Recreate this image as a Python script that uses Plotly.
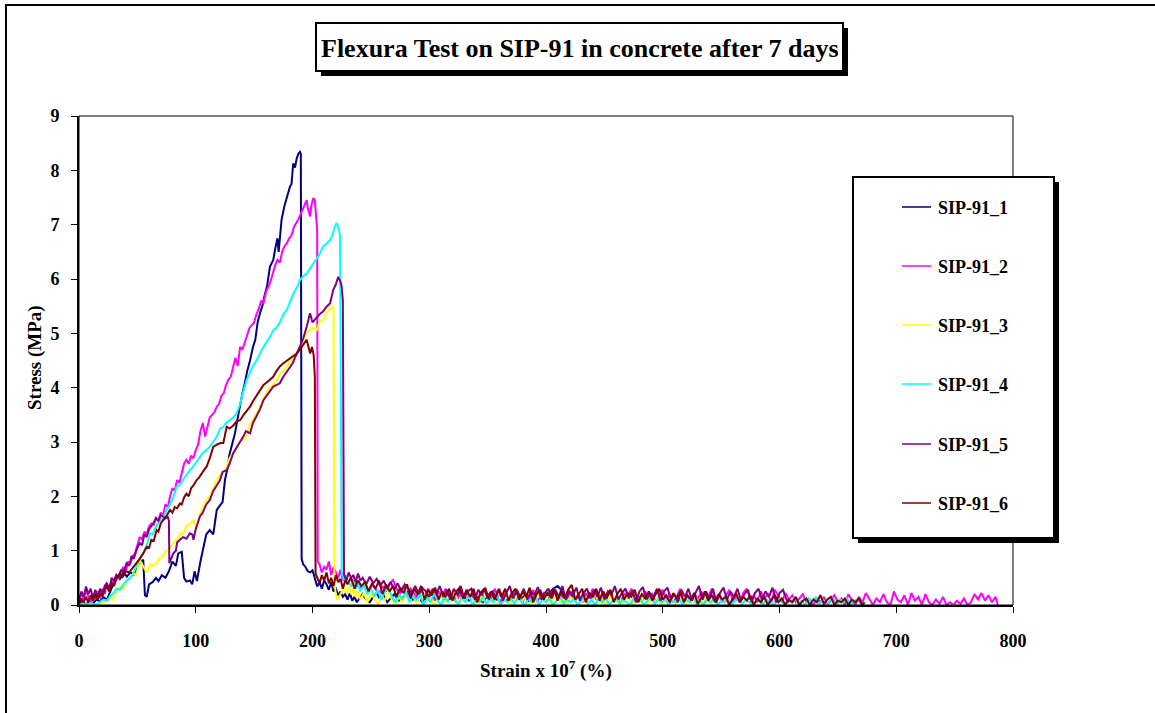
import plotly.graph_objects as go

# ---------------- data ----------------
SERIES_NAMES = ["SIP-91_1", "SIP-91_2", "SIP-91_3", "SIP-91_4", "SIP-91_5", "SIP-91_6"]
SERIES_COLORS = ["#000080", "#FF00FF", "#FFFF00", "#00FFFF", "#800080", "#800000"]

X_TICKS = [0, 100, 200, 300, 400, 500, 600, 700, 800]
Y_TICKS = [0, 1, 2, 3, 4, 5, 6, 7, 8, 9]

SIP91_1 = [(0,0.02),(3,0.06),(6,0.0),(9,0.08),(12,0.03),(15,0.1),(18,0.07),(21,0.14),(24,0.1),(27,0.25),
(30,0.42),(32,0.55),(35,0.48),(38,0.6),(41,0.52),(44,0.6),(47,0.56),(50,0.72),(53,0.8),(55,0.83),(56.5,0.18),
(58,0.15),(60,0.38),(63,0.42),(66,0.5),(68,0.44),(71,0.55),(74,0.5),(77,0.62),(80,0.8),(83,0.72),(85,0.95),
(88,0.98),(90,0.5),(92,0.43),(95,0.45),(97,0.38),(99,0.62),(101,0.44),(104,0.8),(106.5,1.07),(109,1.3),
(112,1.38),(115,1.3),(118,1.75),(121,1.85),(123,1.9),(125,2.3),(127,2.5),(129,2.78),(131,2.95),(133.6,3.16),
(136,3.45),(138,3.71),(140,3.9),(142,4.08),(144,4.3),(146.5,4.5),(149,4.75),(151,4.88),(153,5.2),(155,5.37),
(157,5.5),(159,5.7),(161,5.86),(163.6,6.23),(166.4,6.35),(168,6.55),(170,6.75),(171,6.5),(173.5,7.09),
(176,7.35),(178,7.52),(180.7,7.7),(182,7.75),(183.5,8.13),(185,8.05),(186.5,8.22),(188,8.31),(189.3,8.34),
(190,8.3),(190.7,0.85),(192,0.75),(194,0.7),(196,0.62),(198,0.6),(200,0.64),(202,0.5),(204,0.34),(206,0.42),
(208,0.3),(210,0.45),(212,0.38),(214,0.28),(216,0.42),(218,0.25),(220,0.3),(222,0.18),(224,0.25),(226,0.15),
(228,0.2),(230,0.1),(232,0.22),(234,0.08),(236,0.15),(238,0.05),(240,0.12),(243,0.2),(246,0.1),(249,0.05),
(252,0.15),(255,0.22),(258,0.1),(261,0.18),(264,0.05),(267,0.12),(270,0.2),(274,0.08),(278,0.15),(282,0.25),
(286,0.1),(290,0.18),(294,0.05),(298,0.15),(302,0.22),(306,0.1),(310,0.18),(314,0.08),(318,0.2),(322,0.12),
(326,0.25),(330,0.15),(334,0.08),(338,0.2),(342,0.12),(346,0.05),(350,0.18),(354,0.25),(358,0.1),(362,0.2),
(366,0.08),(370,0.15),(374,0.22),(378,0.1),(382,0.18),(386,0.05),(390,0.15),(394,0.25),(398,0.12),(402,0.2),
(406,0.3),(410,0.35),(413,0.28),(416,0.15),(420,0.22),(424,0.1),(428,0.18),(432,0.05)]

SIP91_2 = [(0,0.05),(2,0.22),(4,0.1),(6,0.28),(8,0.15),(10,0.05),(12,0.2),(14,0.1),(16,0.25),(18,0.12),(20,0.3),
(22,0.2),(24,0.38),(26,0.3),(28,0.45),(30,0.4),(32,0.55),(34,0.5),(36,0.62),(38,0.7),(40,0.6),(42,0.8),(44,0.75),
(46,0.9),(48,0.95),(50,1.1),(52,1.25),(54,1.2),(56,1.35),(58,1.3),(60,1.45),(62,1.5),(64,1.48),(66,1.6),(68,1.55),
(70,1.7),(72,1.65),(74,1.85),(76,1.8),(78,2.0),(80,2.15),(82,2.1),(84,2.3),(86,2.25),(88,2.45),(90,2.6),(92,2.67),
(94,2.6),(96,2.75),(98,2.7),(100,2.85),(102,2.95),(104,3.2),(106,3.35),(108,3.1),(110,3.3),(112,3.45),(114,3.5),
(116,3.55),(118,3.65),(120,3.7),(122,3.85),(124,3.9),(126,4.05),(128,4.15),(130,4.2),(132,4.35),(134,4.55),
(136,4.4),(138,4.75),(140,4.7),(142,4.85),(144,4.95),(146,5.1),(148,5.15),(150,5.2),(152,5.35),(154,5.45),
(156,5.6),(158,5.55),(160,5.75),(162,5.85),(164,5.95),(166,6.1),(168,6.25),(170,6.35),(172,6.3),(174,6.5),
(176,6.6),(178,6.66),(180,6.75),(182,6.8),(184,6.95),(186,7.03),(188,7.1),(190,7.2),(192,7.3),(194,7.4),
(195,7.45),(196,7.3),(198,7.15),(199,7.35),(200.7,7.49),(202,7.45),(203,7.2),(204,6.9),(204.5,0.8),
(206,0.75),(208,0.6),(210,0.7),(212,0.65),(214,0.8),(216,0.55),(218,0.7),(220,0.6),(222,0.5),(224,0.65),
(226,0.45),(228,0.55),(230,0.4),(233,0.5),(236,0.35),(239,0.45),(242,0.3),(245,0.42),(248,0.25),(251,0.38),
(254,0.3),(257,0.2),(260,0.35),(263,0.25),(266,0.4),(269,0.46),(272,0.3),(275,0.2),(278,0.35),(281,0.15),
(284,0.3),(287,0.22),(290,0.1),(293,0.28),(296,0.15),(299,0.3),(302,0.2),(305,0.08),(308,0.25),(311,0.15),
(314,0.3),(317,0.1),(320,0.22),(323,0.05),(326,0.2),(329,0.12),(332,0.28),(335,0.1),(338,0.18),(341,0.05),
(344,0.25),(347,0.12),(350,0.2),(353,0.08),(356,0.3),(359,0.15),(362,0.05),(365,0.22),(368,0.1),(371,0.25),
(374,0.08),(377,0.18),(380,0.05),(383,0.2),(386,0.12),(389,0.28),(392,0.05),(395,0.15),(398,0.22),(401,0.08),
(404,0.18),(407,0.3),(410,0.1),(413,0.2),(416,0.05),(419,0.15),(422,0.25),(425,0.08),(428,0.18),(431,0.05),
(434,0.22),(437,0.12),(440,0.3),(443,0.1),(446,0.18),(449,0.05),(452,0.2),(455,0.28),(458,0.1),(461,0.15),
(464,0.05),(467,0.22),(470,0.12),(473,0.3),(476,0.08),(479,0.18),(482,0.05),(485,0.25),(488,0.12),(491,0.2),
(494,0.05),(497,0.18),(500,0.28),(503,0.1),(506,0.2),(509,0.05),(512,0.15),(515,0.3),(518,0.08),(521,0.18),
(524,0.05),(527,0.22),(530,0.1),(533,0.25),(536,0.05),(539,0.15),(542,0.3),(545,0.1),(548,0.2),(551,0.05),
(554,0.18),(557,0.28),(560,0.08),(563,0.15),(566,0.05),(569,0.22),(572,0.3),(575,0.1),(578,0.18),(581,0.05),
(584,0.25),(587,0.12),(590,0.2),(593,0.05),(596,0.28),(599,0.15),(602,0.05),(605,0.22),(608,0.1),(611,0.18),
(614,0.05),(617,0.12),(620,0.2),(623,0.05),(626,0.1),(629,0.0),(632,0.12),(635,0.05),(638,0.15),(641,0.0),
(644,0.1),(647,0.18),(650,0.05),(653,0.12),(656,0.0),(659,0.2),(662,0.08),(665,0.0),(668,0.15),(671,0.05),
(674,0.22),(677,0.1),(680,0.0),(683,0.12),(686,0.05),(689,0.2),(692,0.05),(695,0.0),(698,0.25),(701,0.1),
(704,0.05),(707,0.18),(710,0.0),(713,0.22),(716,0.08),(719,0.15),(722,0.0),(725,0.2),(728,0.05),(731,0.0),
(734,0.1),(737,0.02),(740,0.15),(743,0.0),(746,0.05),(749,0.0),(752,0.08),(755,0.02),(758,0.12),(761,0.0),
(764,0.05),(767,0.2),(770,0.1),(773,0.22),(776,0.08),(779,0.18),(782,0.05),(785,0.15),(787,0.0)]

SIP91_3 = [(0,0.0),(3,0.02),(6,0.0),(9,0.03),(12,0.0),(15,0.02),(18,0.0),(21,0.05),(24,0.08),(26.6,0.15),
(29,0.1),(32,0.25),(35,0.34),(38,0.3),(41,0.45),(44,0.5),(46.5,0.58),(49,0.55),(52,0.83),(55,0.7),(58,0.6),
(61,0.75),(64,0.72),(66.5,0.77),(69,0.85),(72,0.9),(75,1.01),(78,1.05),(81,1.15),(84,1.2),(86.5,1.32),(89,1.3),
(92,1.45),(95,1.5),(98,1.56),(100.8,1.38),(103,1.65),(106,1.8),(109.4,1.93),(112,2.0),(115,2.15),(118,2.3),
(121,2.4),(124,2.45),(126.5,2.55),(129,2.7),(132,2.8),(135,2.91),(138,3.0),(141,3.05),(143.6,3.1),(146,3.3),
(149,3.4),(152,3.53),(155,3.65),(158,3.8),(160.8,3.9),(163,4.0),(166,4.05),(169.3,4.14),(172,4.25),(175,4.3),
(178,4.39),(181,4.5),(184,4.55),(186.5,4.63),(189,4.75),(192,4.85),(195,5.0),(198,5.05),(200,5.1),(203.6,5.06),
(206,5.2),(209,5.25),(212,5.37),(215,5.45),(217.2,5.49),(218,5.45),(218.8,0.4),(220,0.2),(221,0.1),(223,0.15),
(225,0.25),(227,0.3),(229,0.22),(231,0.35),(233,0.2),(235,0.3),(237,0.15),(239,0.25),(241,0.1),(244,0.22),
(247,0.05),(250,0.2),(253,0.12),(256,0.0),(259,0.18),(262,0.08),(265,0.25),(268,0.1),(271,0.0),(274,0.15),
(277,0.05),(280,0.2),(283,0.08),(286,0.18),(289,0.02),(292,0.12),(295,0.22),(298,0.05),(301,0.15),(304,0.0),
(307,0.1),(310,0.2),(313,0.05),(316,0.15),(319,0.08),(322,0.22),(325,0.02),(328,0.12),(331,0.05),(334,0.18),
(337,0.1),(340,0.0),(343,0.15),(346,0.08),(349,0.2),(352,0.05),(355,0.12),(358,0.0),(361,0.18),(364,0.08),
(367,0.15),(370,0.02),(373,0.1),(376,0.2),(379,0.05),(382,0.15),(385,0.0),(388,0.12),(391,0.05),(394,0.2),
(397,0.08),(400,0.15),(403,0.02),(406,0.1),(409,0.18),(412,0.05),(415,0.12),(418,0.0),(421,0.15),(424,0.08),
(427,0.2),(430,0.05),(433,0.1),(436,0.0),(439,0.15),(442,0.22),(445,0.05),(448,0.12),(451,0.0),(454,0.1),
(457,0.18),(460,0.05),(463,0.12),(466,0.02),(469,0.15),(472,0.08),(475,0.0),(478,0.12),(481,0.05),(484,0.18),
(487,0.02),(490,0.1),(493,0.05),(496,0.15),(499,0.0),(502,0.1),(505,0.05),(508,0.12),(511,0.0),(514,0.08),
(517,0.15),(520,0.02),(523,0.1),(526,0.05),(529,0.12),(532,0.0),(535,0.08),(538,0.15),(541,0.02),(544,0.1),
(547,0.0),(550,0.08),(553,0.12),(556,0.02),(559,0.05)]

SIP91_4 = [(0,0.0),(3,0.03),(6,0.0),(9,0.05),(12,0.02),(15,0.0),(18,0.06),(21,0.1),(24,0.08),(27,0.18),(29,0.2),
(32,0.3),(35,0.28),(38,0.38),(41,0.45),(44,0.5),(46.5,0.58),(49,0.7),(52,0.85),(55,0.95),(58,1.1),(60.8,1.32),
(63,1.3),(66,1.45),(69,1.55),(72,1.6),(75,1.75),(78,1.85),(81,2.0),(83.7,2.18),(86,2.2),(89,2.3),(92,2.4),
(95,2.48),(98,2.55),(101,2.65),(103.6,2.73),(106,2.8),(109,2.85),(112,2.91),(115,3.0),(118,3.1),(121,3.25),
(123.6,3.28),(126,3.35),(129,3.4),(132,3.45),(135,3.53),(138,3.7),(141,3.95),(143.6,4.14),(146,4.25),(149,4.4),
(152,4.5),(155,4.63),(158,4.75),(161,4.85),(164,4.95),(166.4,5.06),(169,5.1),(172,5.2),(175,5.35),(178,5.43),
(181,5.6),(184,5.75),(187,5.85),(189.3,5.98),(192,6.05),(195,6.1),(198,6.2),(200.7,6.29),(203,6.35),(206,6.45),
(209,6.6),(212,6.65),(215,6.72),(217,6.8),(219,6.95),(220.7,7.03),(222,6.95),(223.6,6.8),(224.5,3.0),(225,0.6),
(227,0.45),(229,0.5),(231,0.4),(233,0.35),(235,0.45),(237,0.3),(239,0.4),(241,0.25),(244,0.38),(247,0.2),
(250,0.3),(253,0.15),(256,0.28),(259,0.1),(262,0.25),(265,0.33),(268,0.15),(271,0.05),(274,0.2),(277,0.1),
(280,0.25),(283,0.05),(286,0.18),(289,0.08),(292,0.22),(295,0.0),(298,0.15),(301,0.05),(304,0.2),(307,0.1),
(310,0.0),(313,0.15),(316,0.05),(319,0.2),(322,0.08),(325,0.02),(328,0.15),(331,0.05),(334,0.18),(337,0.0),
(340,0.1),(343,0.05),(346,0.15),(349,0.02),(352,0.12),(355,0.05),(358,0.18),(361,0.0),(364,0.1),(367,0.05),
(370,0.12),(373,0.02),(376,0.15),(379,0.05),(382,0.0),(385,0.12),(388,0.05),(391,0.15),(394,0.0),(397,0.1),
(400,0.05),(403,0.12),(406,0.0),(409,0.08),(412,0.15),(415,0.02),(418,0.1),(421,0.05),(424,0.12),(427,0.0),
(430,0.08),(433,0.15),(436,0.02),(439,0.1),(442,0.0),(445,0.12),(448,0.05),(451,0.15),(454,0.0),(457,0.08),
(460,0.12),(463,0.02),(466,0.1),(469,0.05),(472,0.0),(475,0.12),(478,0.05),(481,0.1),(484,0.0),(487,0.08),
(490,0.15),(493,0.02),(496,0.1),(499,0.05),(502,0.12),(505,0.0),(508,0.08),(511,0.05),(514,0.12),(517,0.0),
(520,0.1),(523,0.05),(526,0.15),(529,0.02),(532,0.08),(535,0.0),(538,0.1),(541,0.05),(544,0.12),(547,0.0),
(550,0.08),(553,0.05),(556,0.1),(559,0.0),(562,0.08),(565,0.12),(568,0.02),(571,0.1),(574,0.05),(577,0.0),
(580,0.08),(583,0.12),(586,0.02),(589,0.1),(592,0.05),(595,0.0),(598,0.08),(601,0.12),(604,0.0),(607,0.1),
(610,0.05),(613,0.15),(616,0.02),(619,0.08),(622,0.0),(625,0.12),(628,0.05),(631,0.15),(634,0.02),(637,0.1),
(640,0.0),(643,0.08),(646,0.12),(649,0.0),(652,0.1),(655,0.05),(658,0.12),(661,0.0),(664,0.08),(667,0.1),(670,0.0)]

SIP91_5 = [(0,0.1),(2,0.25),(4,0.15),(6,0.34),(8,0.2),(10,0.3),(12,0.12),(14,0.28),(16,0.15),(18,0.3),(20,0.2),
(22,0.35),(23.7,0.4),(26,0.3),(28,0.5),(30,0.45),(32,0.55),(34,0.5),(36,0.65),(38,0.6),(40.8,0.77),(43,0.72),
(45,0.9),(47,0.85),(49,1.0),(52,1.14),(54,1.1),(56,1.3),(58,1.25),(60,1.4),(62,1.45),(63.6,1.5),(66,1.6),
(68,1.55),(70,1.65),(72,1.63),(74,1.6),(76,1.62),(77,1.55),(77.4,0.77),(79,0.85),(80.8,0.95),(83,1.0),(84,1.15),
(86.5,1.2),(89,1.25),(92,1.22),(95,1.32),(97,1.3),(98,1.2),(100,1.4),(103.6,1.63),(106,1.7),(109,1.85),(112,1.93),
(115,2.1),(118,2.2),(120.8,2.3),(123,2.45),(126.5,2.48),(129,2.6),(132,2.79),(135,2.9),(138,3.0),(140.7,3.1),
(143,3.2),(146.5,3.16),(149,3.35),(152,3.47),(155,3.6),(158,3.77),(161,3.85),(164,3.95),(166.4,4.02),(169,4.05),
(172,4.08),(175,4.2),(178,4.3),(180.7,4.39),(183,4.45),(186,4.6),(189.3,4.75),(192,4.9),(195,5.12),(197.9,5.37),
(200,5.2),(203.6,5.3),(206,5.35),(209,5.4),(212,5.49),(215,5.55),(217.8,5.8),(220,5.9),(222,6.04),(224,5.95),
(225,5.86),(226,5.6),(226.5,2.5),(227,0.55),(229,0.45),(231,0.6),(233,0.5),(235,0.55),(237,0.42),(239,0.58),
(241,0.45),(243,0.5),(246,0.38),(249,0.52),(252,0.4),(255,0.48),(258,0.35),(261,0.45),(264,0.3),(267,0.42),
(270,0.28),(273,0.4),(276,0.25),(279,0.38),(282,0.3),(285,0.22),(288,0.35),(291,0.2),(294,0.32),(297,0.25),
(300,0.15),(303,0.3),(306,0.2),(309,0.35),(312,0.15),(315,0.28),(318,0.1),(321,0.3),(324,0.2),(327,0.35),
(330,0.12),(333,0.25),(336,0.3),(339,0.1),(342,0.28),(345,0.18),(348,0.32),(351,0.1),(354,0.25),(357,0.15),
(360,0.3),(363,0.08),(366,0.22),(369,0.35),(372,0.12),(375,0.28),(378,0.15),(381,0.3),(384,0.1),(387,0.25),
(390,0.18),(393,0.33),(396,0.1),(399,0.22),(402,0.3),(405,0.12),(408,0.28),(411,0.15),(414,0.35),(417,0.1),
(420,0.25),(423,0.18),(426,0.32),(429,0.08),(432,0.22),(435,0.3),(438,0.12),(441,0.28),(444,0.15),(447,0.32),
(450,0.1),(453,0.25),(456,0.18),(459,0.35),(462,0.1),(465,0.22),(468,0.3),(471,0.12),(474,0.28),(477,0.05),
(480,0.25),(483,0.33),(486,0.1),(489,0.22),(492,0.15),(495,0.3),(498,0.08),(501,0.25),(504,0.32),(507,0.1),
(510,0.2),(513,0.05),(516,0.28),(519,0.15),(522,0.3),(525,0.08),(528,0.22),(531,0.35),(534,0.1),(537,0.25),
(540,0.12),(543,0.3),(546,0.05),(549,0.22),(552,0.32),(555,0.1),(558,0.25),(561,0.15),(564,0.3),(567,0.08),
(570,0.2),(573,0.28),(576,0.05),(579,0.22),(582,0.3),(585,0.1),(588,0.25),(591,0.15),(594,0.32),(597,0.05),
(600,0.22),(603,0.28),(606,0.1),(608,0.05)]

SIP91_6 = [(0,0.02),(2,0.12),(4,0.05),(6,0.15),(8,0.04),(10,0.18),(12,0.08),(14,0.2),(16,0.1),(18,0.22),(20,0.15),
(22,0.3),(23.7,0.34),(26,0.25),(28,0.4),(30,0.35),(32,0.48),(35,0.58),(37,0.5),(40,0.62),(43,0.6),(46.5,0.7),
(49,0.75),(52,0.85),(55,0.95),(58,1.07),(60,1.05),(62,1.2),(64,1.18),(66.5,1.38),(68,1.35),(70,1.5),(72,1.56),
(74,1.6),(76,1.68),(78,1.75),(80,1.7),(82,1.8),(84,1.78),(86.5,1.87),(88,1.85),(90,1.98),(92,2.05),(94,2.0),
(96,2.15),(98,2.2),(100.8,2.3),(103,2.35),(106,2.45),(109.4,2.55),(112,2.7),(115,2.91),(118,2.95),(121,2.98),
(123.6,2.98),(125,3.1),(126.5,3.28),(129,3.25),(132,3.3),(135,3.38),(138,3.4),(141,3.5),(143,3.55),(146.5,3.65),
(149,3.75),(152,3.85),(155,3.96),(158,4.05),(161,4.1),(164,4.15),(166.4,4.2),(169,4.3),(172,4.39),(175,4.45),
(178,4.5),(181,4.55),(184,4.6),(186.5,4.63),(189,4.7),(192,4.8),(195,4.88),(198,4.63),(199.6,4.75),(201,4.6),
(202,4.2),(202.6,0.58),(204,0.5),(206,0.4),(208,0.55),(210,0.45),(212,0.6),(214,0.4),(216,0.5),(218,0.35),
(220,0.55),(222,0.42),(224,0.48),(226,0.3),(228,0.45),(230,0.38),(233,0.5),(236,0.3),(239,0.45),(242,0.35),
(245,0.42),(248,0.25),(251,0.4),(254,0.3),(257,0.45),(260,0.2),(263,0.38),(266,0.25),(269,0.35),(272,0.15),
(275,0.32),(278,0.22),(281,0.38),(284,0.12),(287,0.3),(290,0.2),(293,0.35),(296,0.1),(299,0.28),(302,0.18),
(305,0.32),(308,0.1),(311,0.25),(314,0.15),(317,0.3),(320,0.08),(323,0.25),(326,0.32),(329,0.12),(332,0.28),
(335,0.15),(338,0.3),(341,0.05),(344,0.22),(347,0.3),(350,0.12),(353,0.25),(356,0.1),(359,0.28),(362,0.15),
(365,0.3),(368,0.08),(371,0.22),(374,0.3),(377,0.1),(380,0.25),(383,0.15),(386,0.32),(389,0.05),(392,0.2),
(395,0.28),(398,0.1),(401,0.22),(404,0.15),(407,0.3),(410,0.08),(413,0.25),(416,0.12),(419,0.28),(422,0.37),
(425,0.1),(428,0.2),(431,0.3),(434,0.05),(437,0.22),(440,0.15),(443,0.3),(446,0.08),(449,0.25),(452,0.12),
(455,0.28),(458,0.05),(461,0.2),(464,0.3),(467,0.1),(470,0.22),(473,0.15),(476,0.28),(479,0.05),(482,0.2),
(485,0.12),(488,0.25),(491,0.08),(494,0.2),(497,0.3),(500,0.1),(503,0.18),(506,0.05),(509,0.22),(512,0.12),
(515,0.25),(518,0.05),(521,0.18),(524,0.1),(527,0.22),(530,0.02),(533,0.15),(536,0.25),(539,0.08),(542,0.18),
(545,0.05),(548,0.2),(551,0.1),(554,0.15),(557,0.0),(560,0.12),(563,0.2),(566,0.05),(569,0.15),(572,0.08),
(575,0.18),(578,0.0),(581,0.12),(584,0.05),(587,0.15),(590,0.0),(593,0.1),(596,0.18),(599,0.05),(602,0.12),
(605,0.0),(608,0.1),(611,0.05),(614,0.15),(617,0.0),(620,0.08),(623,0.12),(626,0.0),(629,0.1),(632,0.05),
(635,0.18),(638,0.02),(641,0.1),(644,0.15),(647,0.0),(650,0.08),(653,0.05),(656,0.12),(659,0.0),(662,0.1),
(665,0.05),(668,0.12),(671,0.0),(673,0.05)]

ALL_SERIES = [SIP91_1, SIP91_2, SIP91_3, SIP91_4, SIP91_5, SIP91_6]

TITLE = "Flexura Test on SIP-91 in concrete after 7 days"
X_TITLE = "Strain x 10<sup>7</sup> (%)"
Y_TITLE = "Stress (MPa)"

# ---------------- layout geometry (pixels) ----------------
W, H = 1155, 713
PL, PR, PT, PB = 79, 1013, 116, 605   # plot area edges
SERIF = "Liberation Serif"


def px(xp):
    return (xp - PL) / (PR - PL)


def py(yp):
    return (PB - yp) / (PB - PT)


fig = go.Figure()
for name, color, data in zip(SERIES_NAMES, SERIES_COLORS, ALL_SERIES):
    xs = [p[0] for p in data]
    ys = [p[1] for p in data]
    fig.add_trace(go.Scatter(x=xs, y=ys, mode="lines", name=name,
                             line=dict(color=color, width=2), showlegend=False,
                             cliponaxis=True))

shapes = []
annotations = []

# outer chart border
shapes.append(dict(type="rect", xref="paper", yref="paper",
                   x0=px(6), x1=px(1175), y0=py(5), y1=py(730),
                   line=dict(color="black", width=2), fillcolor="rgba(0,0,0,0)", layer="below"))
# plot frame (thin top / right)
shapes.append(dict(type="rect", xref="paper", yref="paper", x0=0, x1=1, y0=0, y1=1,
                   line=dict(color="black", width=1), layer="above"))

# title box with shadow
tb = (316, 23, 843, 71)
shapes.append(dict(type="rect", xref="paper", yref="paper",
                   x0=px(tb[0] + 5), x1=px(tb[2] + 5), y0=py(tb[3] + 5), y1=py(tb[1] + 5),
                   line=dict(width=0), fillcolor="black", layer="above"))
shapes.append(dict(type="rect", xref="paper", yref="paper",
                   x0=px(tb[0]), x1=px(tb[2]), y0=py(tb[3]), y1=py(tb[1]),
                   line=dict(color="black", width=2), fillcolor="white", layer="above"))
annotations.append(dict(text="<b>" + TITLE + "</b>", xref="paper", yref="paper",
                        x=px((tb[0] + tb[2]) / 2), y=py((tb[1] + tb[3]) / 2 + 1),
                        xanchor="center", yanchor="middle", showarrow=False,
                        font=dict(family=SERIF, size=26, color="black")))

# legend box with shadow
lb = (853, 177, 1054, 538)
shapes.append(dict(type="rect", xref="paper", yref="paper",
                   x0=px(lb[0] + 5), x1=px(lb[2] + 5), y0=py(lb[3] + 5), y1=py(lb[1] + 5),
                   line=dict(width=0), fillcolor="black", layer="above"))
shapes.append(dict(type="rect", xref="paper", yref="paper",
                   x0=px(lb[0]), x1=px(lb[2]), y0=py(lb[3]), y1=py(lb[1]),
                   line=dict(color="black", width=2), fillcolor="white", layer="above"))
entry_y = [207, 266, 325, 384, 444, 503]
for name, color, ey in zip(SERIES_NAMES, SERIES_COLORS, entry_y):
    shapes.append(dict(type="line", xref="paper", yref="paper",
                       x0=px(902), x1=px(931), y0=py(ey), y1=py(ey),
                       line=dict(color=color, width=1.5), layer="above"))
    annotations.append(dict(text="<b>" + name + "</b>", xref="paper", yref="paper",
                            x=px(936), y=py(ey + 1),
                            xanchor="left", yanchor="middle", showarrow=False,
                            font=dict(family=SERIF, size=18, color="black")))

# axis titles
annotations.append(dict(text="<b>" + X_TITLE + "</b>", xref="paper", yref="paper",
                        x=px(546), y=py(669),
                        xanchor="center", yanchor="middle", showarrow=False,
                        font=dict(family=SERIF, size=19, color="black")))
annotations.append(dict(text="<b>" + Y_TITLE + "</b>", xref="paper", yref="paper",
                        x=px(35), y=py(358),
                        xanchor="center", yanchor="middle", showarrow=False, textangle=-90,
                        font=dict(family=SERIF, size=19, color="black")))

tickfont = dict(family=SERIF, size=18, color="black")
fig.update_layout(
    width=W, height=H, autosize=False,
    margin=dict(l=PL, r=W - PR, t=PT, b=H - PB, pad=0),
    paper_bgcolor="white", plot_bgcolor="white",
    showlegend=False,
    xaxis=dict(range=[0, 800], tickvals=X_TICKS, ticktext=["<b>%d</b>" % v for v in X_TICKS],
               ticks="outside", ticklen=6, tickwidth=1, tickcolor="black",
               showline=True, linecolor="black", linewidth=2, showgrid=False, zeroline=False,
               tickfont=tickfont, ticklabelstandoff=12, fixedrange=True),
    yaxis=dict(range=[0, 9], tickvals=Y_TICKS, ticktext=["<b>%d</b>" % v for v in Y_TICKS],
               ticks="outside", ticklen=6, tickwidth=1, tickcolor="black",
               showline=True, linecolor="black", linewidth=2, showgrid=False, zeroline=False,
               tickfont=tickfont, ticklabelstandoff=8, fixedrange=True),
    shapes=shapes, annotations=annotations,
)

fig.write_html("out.html")
